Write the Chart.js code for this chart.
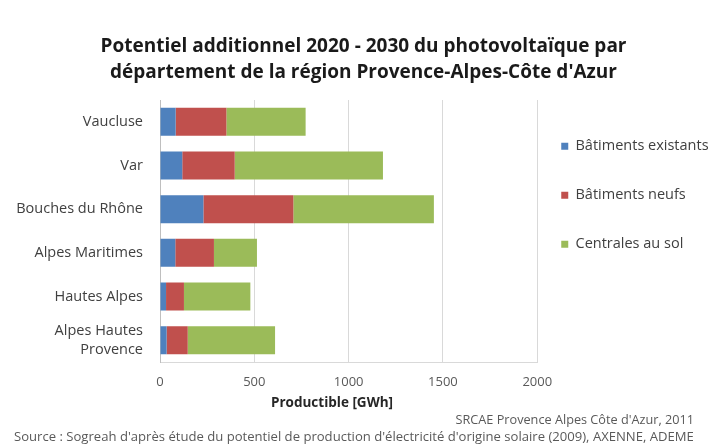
<!DOCTYPE html>
<html>
<head>
<meta charset="utf-8">
<script src="https://cdn.jsdelivr.net/npm/chart.js@4.4.0/dist/chart.umd.min.js"></script>
<style>
  html, body { margin: 0; padding: 0; background: #fff; }
  #wrap { width: 712px; height: 444px; position: relative; }
</style>
</head>
<body>
<div id="wrap"><canvas id="pv-chart"></canvas></div>
<script>
var departements = ["Vaucluse", "Var", "Bouches du Rhône", "Alpes Maritimes", "Hautes Alpes", ["Alpes Hautes", "Provence"]];
var batimentsExistants = [83, 118, 230, 81, 32, 35];
var batimentsNeufs = [269, 278, 477, 205, 95, 112];
var centralesAuSol = [420, 786, 745, 228, 352, 463];
var xTicks = [0, 500, 1000, 1500, 2000];

var textGrey = '#404040';

// axis title and source lines under the plot
var footerText = {
  id: 'footerText',
  afterDraw: function (chart) {
    var c = chart.ctx;
    c.save();
    c.fillStyle = '#262626';
    c.textBaseline = 'middle';
    c.font = 'bold 13.5px "Open Sans"';
    c.textAlign = 'center';
    c.fillText('Productible [GWh]', 332, 403);
    c.fillStyle = '#595959';
    c.textAlign = 'right';
    c.font = '12.7px "Open Sans"';
    c.fillText("SRCAE Provence Alpes Côte d'Azur, 2011", 694, 420);
    c.textAlign = 'left';
    c.font = '13.1px "Open Sans"';
    c.fillText("Source : Sogreah d'après étude du potentiel de production d'électricité d'origine solaire (2009), AXENNE, ADEME", 14, 437);
    c.restore();
  }
};

new Chart(document.getElementById('pv-chart').getContext('2d'), {
  type: 'bar',
  data: {
    labels: departements,
    datasets: [
      { label: 'Bâtiments existants', data: batimentsExistants, backgroundColor: '#4F81BD' },
      { label: 'Bâtiments neufs', data: batimentsNeufs, backgroundColor: '#C0504D' },
      { label: 'Centrales au sol', data: centralesAuSol, backgroundColor: '#9BBB59' }
    ]
  },
  options: {
    indexAxis: 'y',
    responsive: true,
    maintainAspectRatio: false,
    animation: false,
    datasets: {
      bar: { categoryPercentage: 1, barPercentage: 0.64 }
    },
    layout: { padding: { left: 16, right: 1, top: 0, bottom: 40 } },
    plugins: {
      title: {
        display: true,
        text: ['Potentiel additionnel 2020 - 2030 du photovoltaïque par', "département de la région Provence-Alpes-Côte d'Azur"],
        color: '#1a1a1a',
        font: { family: 'Open Sans', size: 19, weight: 'bold', lineHeight: '26px' },
        padding: { top: 34, bottom: 14 }
      },
      legend: {
        position: 'right',
        align: 'start',
        fullSize: false,
        title: { display: true, text: ' ', font: { size: 5 }, padding: { top: 4.5, bottom: 4.5 } },
        labels: {
          boxWidth: 7,
          boxHeight: 7,
          padding: 24,
          color: textGrey,
          font: { family: 'Open Sans', size: 14.5, lineHeight: '25px' },
          // single-line arrays so each row takes the font line height
          generateLabels: function (chart) {
            var items = Chart.defaults.plugins.legend.labels.generateLabels(chart);
            items.forEach(function (it) { it.text = [it.text]; });
            return items;
          }
        }
      },
      tooltip: { enabled: false }
    },
    scales: {
      x: {
        stacked: true,
        min: 0,
        max: 2000,
        afterFit: function (s) { s.height = 42; },
        afterBuildTicks: function (s) { s.ticks = xTicks.map(function (v) { return { value: v }; }); },
        grid: { color: '#d9d9d9', drawTicks: false },
        border: { color: '#d9d9d9' },
        ticks: {
          padding: 12,
          color: '#595959',
          font: { family: 'Open Sans', size: 13 },
          callback: function (v) { return String(v); }
        }
      },
      y: {
        stacked: true,
        afterFit: function (s) { s.width = 144; },
        grid: { display: false, drawTicks: false },
        border: { color: '#bfbfbf' },
        ticks: {
          padding: 17,
          color: textGrey,
          font: { family: 'Open Sans', size: 14.5, lineHeight: 1.3 }
        }
      }
    }
  },
  plugins: [footerText]
});
</script>
</body>
</html>
